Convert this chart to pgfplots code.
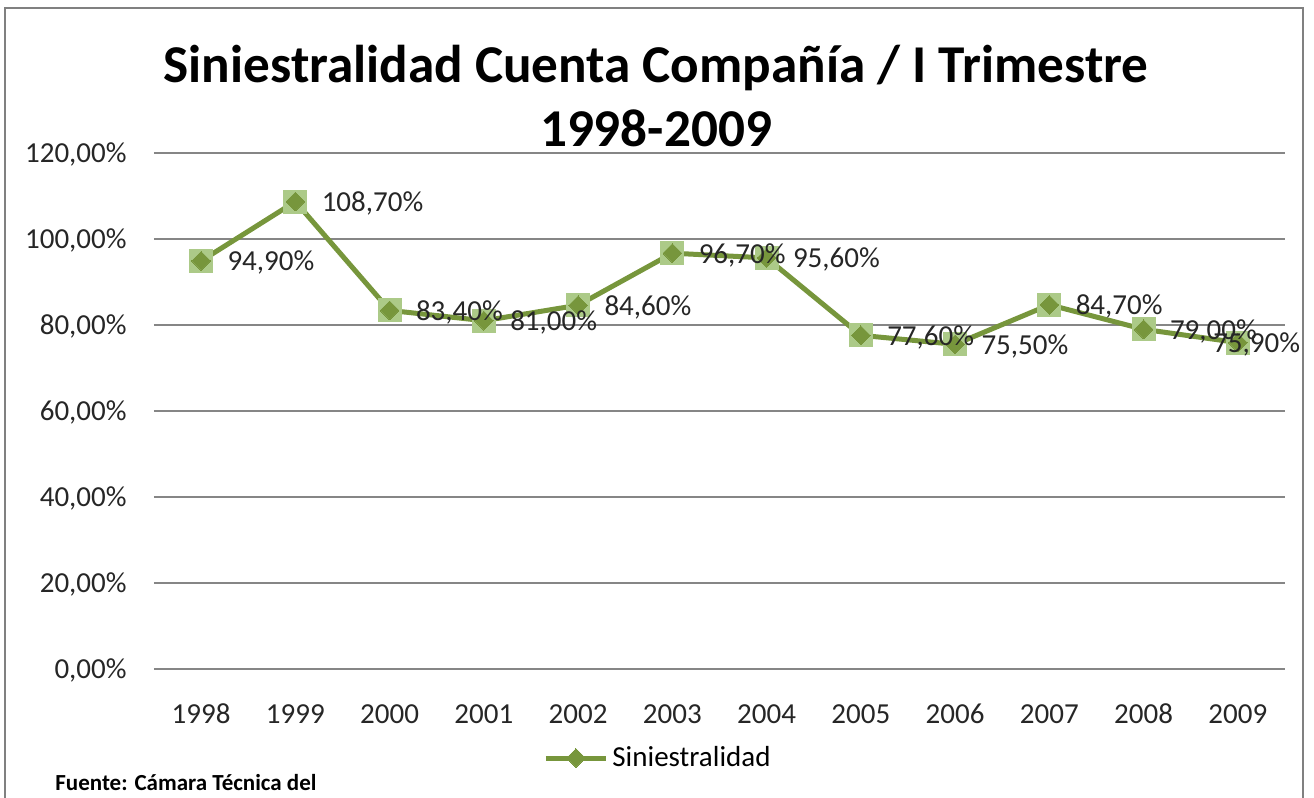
\documentclass[border=0pt]{standalone}
\usepackage{pgfplots}
\pgfplotsset{compat=1.18}
\usepackage{fontspec}
\setmainfont{Carlito}
\definecolor{linegreen}{RGB}{119,150,60}
\definecolor{sqgreen}{RGB}{172,202,136}
\definecolor{gridgray}{RGB}{134,134,134}
\definecolor{framegray}{RGB}{128,128,128}
\newcommand{\lab}{\fontsize{14.5}{17}\selectfont}
\begin{document}
\begin{tikzpicture}
\path[use as bounding box] (0,0) rectangle (657pt,-399pt);
\draw[framegray, line width=1.3pt] (2.5pt,-405pt) -- (2.5pt,-4pt) -- (651.5pt,-4pt) -- (651.5pt,-405pt);
\begin{axis}[
  at={(77pt,-76.5pt)}, anchor=north west,
  scale only axis, width=565.5pt, height=258pt,
  xmin=-0.5, xmax=11.5, ymin=0, ymax=120,
  xtick={0,...,11},
  xticklabels={1998,1999,2000,2001,2002,2003,2004,2005,2006,2007,2008,2009},
  ytick={0,20,40,60,80,100,120},
  yticklabel={\pgfmathprintnumber[fixed,fixed zerofill,precision=2,use comma]{\tick}\%},
  /pgf/number format/assume math mode=true,
  axis line style={draw=none}, major tick length=0pt,
  ymajorgrids, grid style={gridgray, line width=0.8pt},
  tick label style={font=\lab, text=black!85, text height=9.2pt, text depth=0pt},
  yticklabel style={anchor=east, inner sep=0pt, xshift=-13.5pt},
  xticklabel style={anchor=north, inner sep=0pt, yshift=-18pt},
  clip=false,
  title={Siniestralidad Cuenta Compañía / I Trimestre\\1998-2009},
  title style={at={(0.4439,0.9884)}, anchor=base, align=center, inner sep=0pt,
    font=\bfseries\fontsize{26.6}{32}\selectfont},
  legend style={draw=none, fill=none, at={(0.4465,-0.1725)}, anchor=center,
    font=\lab, inner sep=0pt},
  legend image code/.code={%
    \draw[#1, mark repeat=2, mark phase=2] plot coordinates {(0pt,0pt) (15pt,0pt) (30pt,0pt)};},
]
\addplot[sqgreen, only marks, mark=square*, mark size=5.75pt,
  mark options={draw=sqgreen, fill=sqgreen}, forget plot]
  coordinates {(0,94.9) (1,108.7) (2,83.4) (3,81.0) (4,84.6) (5,96.7) (6,95.6) (7,77.6) (8,75.5) (9,84.7) (10,79.0) (11,75.9)};
\addplot[linegreen, line width=2.5pt, mark=square*, mark size=3.3pt,
  mark options={rotate=45, fill=linegreen, draw=linegreen, line width=0pt}]
  coordinates {(0,94.9) (1,108.7) (2,83.4) (3,81.0) (4,84.6) (5,96.7) (6,95.6) (7,77.6) (8,75.5) (9,84.7) (10,79.0) (11,75.9)};
\addlegendentry{Siniestralidad}
\addplot[draw=none, no marks, forget plot,
  nodes near coords={\pgfmathprintnumber[fixed,fixed zerofill,precision=2,use comma]{\pgfplotspointmeta}\%},
  every node near coord/.append style={anchor=west, inner sep=0pt, xshift=13pt, yshift=-1pt, font=\lab, text=black!85}]
  coordinates {(0,94.9) (1,108.7) (2,83.4) (3,81.0) (4,84.6) (5,96.7) (6,95.6) (7,77.6) (8,75.5) (9,84.7) (10,79.0)};
\addplot[draw=none, no marks, forget plot,
  nodes near coords={\pgfmathprintnumber[fixed,fixed zerofill,precision=2,use comma]{\pgfplotspointmeta}\%},
  every node near coord/.append style={anchor=west, inner sep=0pt, xshift=-12.5pt, yshift=-1pt, font=\lab, text=black!85}]
  coordinates {(11,75.9)};
\end{axis}
\node[anchor=base west, inner sep=0pt, font=\bfseries\fontsize{11.5}{13}\selectfont] at (27.5pt,-395pt) {Fuente: Cámara Técnica del};
\end{tikzpicture}
\end{document}
